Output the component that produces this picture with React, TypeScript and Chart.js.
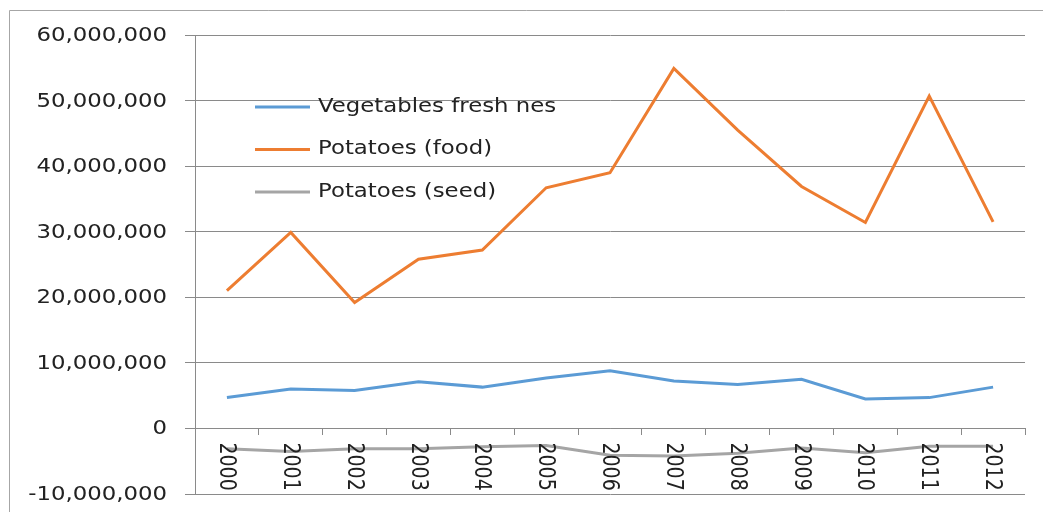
import React, { useEffect, useRef } from "react";
import { Chart, registerables } from "chart.js";

Chart.register(...registerables);

const categories = ["2000", "2001", "2002", "2003", "2004", "2005", "2006", "2007", "2008", "2009", "2010", "2011", "2012"];
const seriesNames = ["Vegetables fresh nes", "Potatoes (food)", "Potatoes (seed)"];
const vegetablesFresh = [4700000, 6000000, 5800000, 7100000, 6300000, 7700000, 8800000, 7250000, 6700000, 7500000, 4500000, 4700000, 6300000];
const potatoesFood = [21000000, 29900000, 19200000, 25800000, 27200000, 36700000, 39000000, 54900000, 45500000, 36900000, 31400000, 50700000, 31500000];
const potatoesSeed = [-3100000, -3500000, -3100000, -3100000, -2800000, -2600000, -4100000, -4200000, -3800000, -3000000, -3700000, -2700000, -2700000];
const yMin = -10000000;
const yMax = 60000000;
const yStep = 10000000;

const colors = ["#5B9BD5", "#ED7D31", "#A5A5A5"];
const FONT = '19px "DejaVu Sans"';
const TEXT = "#222222";
const GRID = "#8a8a8a";
const SX = 1.2;

const fmt = (v: number) => v.toLocaleString("en-US");

const textPlugin = {
  id: "excelText",
  afterDraw(chart: any) {
    const ctx = chart.ctx as CanvasRenderingContext2D;
    const ys = chart.scales.y;
    const xs = chart.scales.x;
    const area = chart.chartArea;
    ctx.save();
    ctx.font = FONT;
    ctx.fillStyle = TEXT;
    // y labels
    ys.ticks.forEach((t: any) => {
      const py = ys.getPixelForValue(t.value);
      ctx.save();
      ctx.translate(area.left - 28, py + 1);
      ctx.scale(SX, 1);
      ctx.textAlign = "right";
      ctx.textBaseline = "middle";
      ctx.fillText(fmt(t.value), 0, 0);
      ctx.restore();
    });
    // x labels, rotated clockwise
    const zeroY = ys.getPixelForValue(0);
    chart.data.labels.forEach((c: string, i: number) => {
      const px = xs.getPixelForValue(i);
      ctx.save();
      ctx.translate(px - 1, zeroY + 14);
      ctx.scale(SX, 1);
      ctx.rotate(Math.PI / 2);
      ctx.textAlign = "left";
      ctx.textBaseline = "middle";
      ctx.fillText(c, 0, 0);
      ctx.restore();
    });
    // legend
    chart.data.datasets.forEach((ds: any, i: number) => {
      const ly = 107 + i * 42.5;
      ctx.strokeStyle = ds.borderColor;
      ctx.lineWidth = 3;
      ctx.beginPath();
      ctx.moveTo(area.left + 60, ly);
      ctx.lineTo(area.left + 115, ly);
      ctx.stroke();
      ctx.save();
      ctx.translate(area.left + 123, ly);
      ctx.scale(SX, 1);
      ctx.textAlign = "left";
      ctx.textBaseline = "middle";
      ctx.fillStyle = TEXT;
      ctx.fillText(ds.label, 0, 0);
      ctx.restore();
    });
    // outer frame (left and top edges)
    ctx.strokeStyle = "#a6a6a6";
    ctx.lineWidth = 1;
    ctx.beginPath();
    ctx.moveTo(9.5, chart.height + 5);
    ctx.lineTo(9.5, 10.5);
    ctx.lineTo(chart.width + 5, 10.5);
    ctx.stroke();
    ctx.restore();
  },
};

const bgPlugin = {
  id: "bg",
  beforeDraw(chart: any) {
    const ctx = chart.ctx;
    ctx.save();
    ctx.fillStyle = "#ffffff";
    ctx.fillRect(0, 0, chart.width, chart.height);
    ctx.restore();
  },
};

export default function App() {
  const ref = useRef<HTMLCanvasElement | null>(null);
  useEffect(() => {
    if (!ref.current) return;
    const chart = new Chart(ref.current, {
      type: "line",
      data: {
        labels: categories,
        datasets: [
          { label: seriesNames[0], data: vegetablesFresh, borderColor: colors[0], backgroundColor: colors[0], borderWidth: 3, pointRadius: 0, tension: 0 },
          { label: seriesNames[1], data: potatoesFood, borderColor: colors[1], backgroundColor: colors[1], borderWidth: 3, pointRadius: 0, tension: 0 },
          { label: seriesNames[2], data: potatoesSeed, borderColor: colors[2], backgroundColor: colors[2], borderWidth: 3, pointRadius: 0, tension: 0 },
        ],
      },
      options: {
        animation: false,
        responsive: false,
        maintainAspectRatio: false,
        devicePixelRatio: 1,
        layout: { padding: { left: 0, top: 35, right: 18, bottom: 18 } },
        plugins: { legend: { display: false }, tooltip: { enabled: false }, title: { display: false } },
        scales: {
          x: {
            type: "category",
            offset: true,
            position: { y: 0 } as any,
            grid: { offset: true, drawOnChartArea: false, drawTicks: true, tickLength: 6, color: GRID, lineWidth: 1 },
            border: { display: true, color: GRID, width: 1 },
            ticks: { display: false },
          },
          y: {
            min: yMin,
            max: yMax,
            ticks: { stepSize: yStep, display: false },
            grid: { color: GRID, lineWidth: 1, drawTicks: true, tickLength: 10 },
            border: { display: true, color: GRID, width: 1 },
            afterFit: (scale: any) => {
              scale.width = 195;
            },
          },
        },
      },
      plugins: [bgPlugin, textPlugin],
    });
    return () => chart.destroy();
  }, []);
  return (
    <div style={{ position: "fixed", left: 0, top: 0, width: 1043, height: 512, overflow: "hidden", background: "#fff" }}>
      <canvas ref={ref} width={1043} height={512} style={{ display: "block", width: 1043, height: 512 }} />
    </div>
  );
}
